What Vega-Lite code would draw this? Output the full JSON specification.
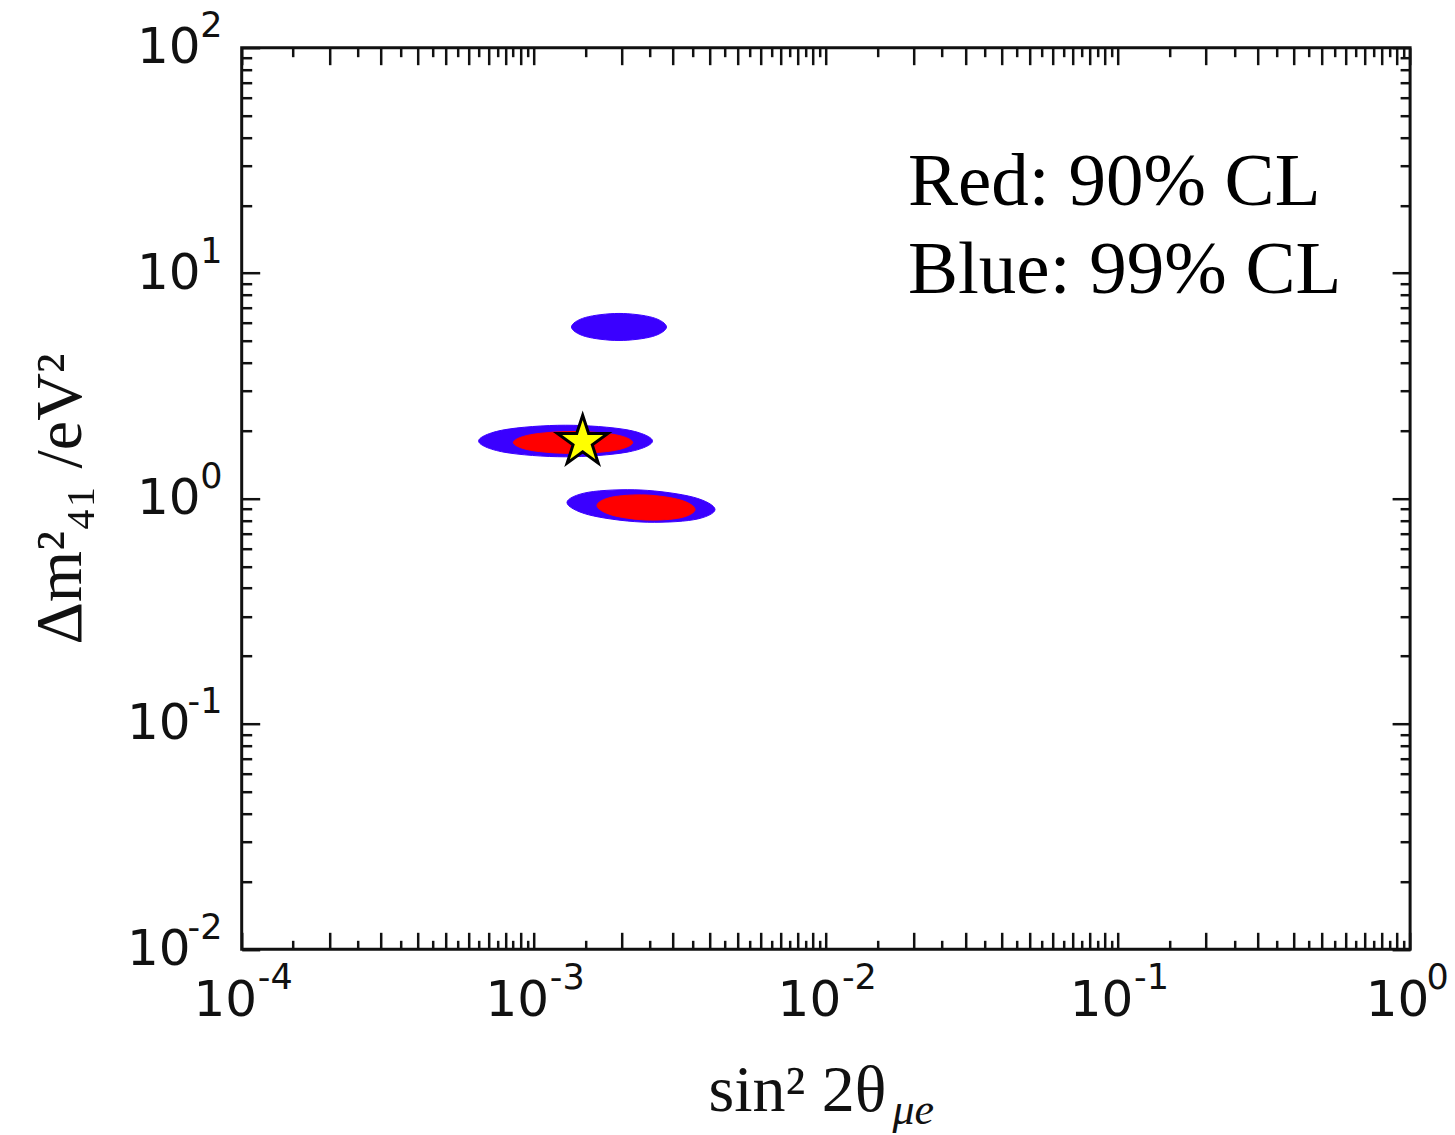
{
  "$schema": "https://vega.github.io/schema/vega-lite/v6.json",
  "autosize": {"type": "none"},
  "width": 1168.4,
  "height": 901.6,
  "padding": {"left": 241.7, "top": 47.7, "right": 44.9, "bottom": 185.7},
  "background": "white",
  "datasets": {
    "blue": [
      {"region": "A", "i": 0, "x": 0.002846, "y": 5.768},
      {"region": "A", "i": 1, "x": 0.002550, "y": 5.234},
      {"region": "A", "i": 2, "x": 0.001957, "y": 5.024},
      {"region": "A", "i": 3, "x": 0.001502, "y": 5.234},
      {"region": "A", "i": 4, "x": 0.001346, "y": 5.768},
      {"region": "A", "i": 5, "x": 0.001502, "y": 6.356},
      {"region": "A", "i": 6, "x": 0.001957, "y": 6.622},
      {"region": "A", "i": 7, "x": 0.002550, "y": 6.356},
      {"region": "B", "i": 0, "x": 0.002550, "y": 1.799},
      {"region": "B", "i": 1, "x": 0.002085, "y": 1.605},
      {"region": "B", "i": 2, "x": 0.001284, "y": 1.531},
      {"region": "B", "i": 3, "x": 0.000791, "y": 1.605},
      {"region": "B", "i": 4, "x": 0.000647, "y": 1.799},
      {"region": "B", "i": 5, "x": 0.000791, "y": 2.017},
      {"region": "B", "i": 6, "x": 0.001284, "y": 2.114},
      {"region": "B", "i": 7, "x": 0.002085, "y": 2.017},
      {"region": "C", "i": 0, "x": 0.004172, "y": 0.8937},
      {"region": "C", "i": 1, "x": 0.003518, "y": 0.8045},
      {"region": "C", "i": 2, "x": 0.002328, "y": 0.7865},
      {"region": "C", "i": 3, "x": 0.001541, "y": 0.8466},
      {"region": "C", "i": 4, "x": 0.001299, "y": 0.9599},
      {"region": "C", "i": 5, "x": 0.001541, "y": 1.0663},
      {"region": "C", "i": 6, "x": 0.002328, "y": 1.0907},
      {"region": "C", "i": 7, "x": 0.003518, "y": 1.0133}
    ],
    "red": [
      {"region": "D", "i": 0, "x": 0.002181, "y": 1.772},
      {"region": "D", "i": 1, "x": 0.001900, "y": 1.636},
      {"region": "D", "i": 2, "x": 0.001362, "y": 1.584},
      {"region": "D", "i": 3, "x": 0.000976, "y": 1.636},
      {"region": "D", "i": 4, "x": 0.000851, "y": 1.772},
      {"region": "D", "i": 5, "x": 0.000976, "y": 1.919},
      {"region": "D", "i": 6, "x": 0.001362, "y": 1.983},
      {"region": "D", "i": 7, "x": 0.001900, "y": 1.919},
      {"region": "E", "i": 0, "x": 0.003565, "y": 0.8938},
      {"region": "E", "i": 1, "x": 0.003183, "y": 0.8214},
      {"region": "E", "i": 2, "x": 0.002422, "y": 0.8028},
      {"region": "E", "i": 3, "x": 0.001843, "y": 0.8455},
      {"region": "E", "i": 4, "x": 0.001645, "y": 0.9310},
      {"region": "E", "i": 5, "x": 0.001843, "y": 1.0130},
      {"region": "E", "i": 6, "x": 0.002422, "y": 1.0364},
      {"region": "E", "i": 7, "x": 0.003183, "y": 0.9842}
    ],
    "star": [{"x": 0.00147, "y": 1.786}],
    "notes": [
      {"x": 0.0191, "y": 20.05, "label": "Red: 90% CL"},
      {"x": 0.0191, "y": 8.16, "label": "Blue: 99% CL"}
    ]
  },
  "resolve": {"axis": {"x": "independent", "y": "independent"}},
  "layer": [
    {
      "data": {"name": "blue"},
      "mark": {"type": "line", "interpolate": "cardinal-closed", "fill": "#3a00ff", "stroke": "#3a00ff", "strokeWidth": 1},
      "encoding": {
        "x": {"field": "x", "type": "quantitative", "scale": {"type": "log", "domain": [0.0001, 1], "nice": false},
          "axis": {"orient": "bottom", "values": [0.0001, 0.001, 0.01, 0.1, 1], "ticks": false, "labelExpr": "'10'",
            "labelFontSize": 50, "labelAlign": "center", "labelBaseline": "alphabetic", "labelPadding": 65.7,
            "labelOffset": {"condition": {"test": "datum.value < 1", "value": -17}, "value": -13},
            "title": "sin² 2θ", "titleFontSize": 66, "titleAlign": "left", "titleBaseline": "alphabetic", "titleX": 466.3, "titleY": 160.7}},
        "y": {"field": "y", "type": "quantitative", "scale": {"type": "log", "domain": [0.01, 100], "nice": false},
          "axis": {"orient": "left", "values": [0.01, 0.1, 1, 10, 100], "ticks": false, "labelExpr": "'10'",
            "labelFontSize": 50, "labelAlign": "right", "labelBaseline": "middle",
            "labelPadding": {"condition": {"test": "datum.value < 1", "value": 51.7}, "value": 41.7},
            "title": "Δm²₄₁ /eV²", "titleFontSize": 66, "titleAngle": -90, "titleAlign": "center", "titleBaseline": "alphabetic", "titleX": -161.7, "titleY": 450.8}},
        "detail": {"field": "region", "type": "nominal"},
        "order": {"field": "i", "type": "quantitative"}
      }
    },
    {
      "data": {"name": "red"},
      "mark": {"type": "line", "interpolate": "cardinal-closed", "fill": "#ff0000", "stroke": "#ff0000", "strokeWidth": 1},
      "encoding": {
        "x": {"field": "x", "type": "quantitative", "scale": {"type": "log", "domain": [0.0001, 1], "nice": false},
          "axis": {"orient": "bottom", "values": [0.0001, 0.001, 0.01, 0.1, 1], "ticks": false,
            "labelExpr": "'' + round(log(datum.value) / LN10)",
            "labelFontSize": 35, "labelAlign": "center", "labelBaseline": "alphabetic", "labelPadding": 38.7,
            "labelOffset": {"condition": {"test": "datum.value < 1", "value": 33}, "value": 27},
            "title": "μe", "titleFontSize": 44, "titleFontStyle": "italic", "titleAlign": "left", "titleBaseline": "alphabetic", "titleX": 650.3, "titleY": 173.7}},
        "y": {"field": "y", "type": "quantitative", "scale": {"type": "log", "domain": [0.01, 100], "nice": false},
          "axis": {"orient": "left", "values": [0.01, 0.1, 1, 10, 100], "ticks": false,
            "labelExpr": "'' + round(log(datum.value) / LN10)",
            "labelFontSize": 35, "labelAlign": "right", "labelBaseline": "middle", "labelPadding": 19.7, "labelOffset": -22,
            "title": null}},
        "detail": {"field": "region", "type": "nominal"},
        "order": {"field": "i", "type": "quantitative"}
      }
    },
    {
      "data": {"name": "star"},
      "mark": {"type": "point", "shape": "M0,-1L0.2245,-0.309L0.9511,-0.309L0.3633,0.118L0.5878,0.809L0,0.382L-0.5878,0.809L-0.3633,0.118L-0.9511,-0.309L-0.2245,-0.309Z", "filled": true, "fill": "#ffff00", "stroke": "#000000", "strokeWidth": 3, "strokeJoin": "miter", "opacity": 1, "size": 2800},
      "encoding": {
        "x": {"field": "x", "type": "quantitative", "scale": {"type": "log", "domain": [0.0001, 1], "nice": false},
          "axis": {"orient": "bottom", "labels": false, "title": null, "tickSize": 17, "offset": -17,
            "values": [0.0001, 0.0002, 0.0003, 0.0004, 0.0005, 0.0006, 0.0007, 0.0008, 0.0009,
                       0.001, 0.002, 0.003, 0.004, 0.005, 0.006, 0.007, 0.008, 0.009,
                       0.01, 0.02, 0.03, 0.04, 0.05, 0.06, 0.07, 0.08, 0.09,
                       0.1, 0.2, 0.3, 0.4, 0.5, 0.6, 0.7, 0.8, 0.9, 1]}},
        "y": {"field": "y", "type": "quantitative", "scale": {"type": "log", "domain": [0.01, 100], "nice": false},
          "axis": {"orient": "left", "labels": false, "title": null, "tickSize": 18, "offset": -18,
            "values": [0.01, 0.1, 1, 10, 100]}}
      }
    },
    {
      "data": {"name": "star"},
      "mark": {"type": "point", "opacity": 0},
      "encoding": {
        "x": {"field": "x", "type": "quantitative", "scale": {"type": "log", "domain": [0.0001, 1], "nice": false},
          "axis": {"orient": "bottom", "labels": false, "title": null, "tickSize": 9, "offset": -9,
            "values": [0.00015, 0.00025, 0.00035, 0.00045, 0.00055, 0.00065, 0.00075, 0.00085, 0.00095,
                       0.0015, 0.0025, 0.0035, 0.0045, 0.0055, 0.0065, 0.0075, 0.0085, 0.0095,
                       0.015, 0.025, 0.035, 0.045, 0.055, 0.065, 0.075, 0.085, 0.095,
                       0.15, 0.25, 0.35, 0.45, 0.55, 0.65, 0.75, 0.85, 0.95]}},
        "y": {"field": "y", "type": "quantitative", "scale": {"type": "log", "domain": [0.01, 100], "nice": false},
          "axis": {"orient": "left", "labels": false, "title": null, "tickSize": 10, "offset": -10,
            "values": [0.02, 0.03, 0.04, 0.05, 0.06, 0.07, 0.08, 0.09,
                       0.2, 0.3, 0.4, 0.5, 0.6, 0.7, 0.8, 0.9,
                       2, 3, 4, 5, 6, 7, 8, 9,
                       20, 30, 40, 50, 60, 70, 80, 90]}}
      }
    },
    {
      "data": {"name": "star"},
      "mark": {"type": "point", "opacity": 0},
      "encoding": {
        "x": {"field": "x", "type": "quantitative", "scale": {"type": "log", "domain": [0.0001, 1], "nice": false},
          "axis": {"orient": "top", "labels": false, "title": null, "tickSize": 17, "offset": -17,
            "values": [0.0001, 0.0002, 0.0003, 0.0004, 0.0005, 0.0006, 0.0007, 0.0008, 0.0009,
                       0.001, 0.002, 0.003, 0.004, 0.005, 0.006, 0.007, 0.008, 0.009,
                       0.01, 0.02, 0.03, 0.04, 0.05, 0.06, 0.07, 0.08, 0.09,
                       0.1, 0.2, 0.3, 0.4, 0.5, 0.6, 0.7, 0.8, 0.9, 1]}},
        "y": {"field": "y", "type": "quantitative", "scale": {"type": "log", "domain": [0.01, 100], "nice": false},
          "axis": {"orient": "right", "labels": false, "title": null, "tickSize": 18, "offset": -18,
            "values": [0.01, 0.1, 1, 10, 100]}}
      }
    },
    {
      "data": {"name": "star"},
      "mark": {"type": "point", "opacity": 0},
      "encoding": {
        "x": {"field": "x", "type": "quantitative", "scale": {"type": "log", "domain": [0.0001, 1], "nice": false},
          "axis": {"orient": "top", "labels": false, "title": null, "tickSize": 9, "offset": -9,
            "values": [0.00015, 0.00025, 0.00035, 0.00045, 0.00055, 0.00065, 0.00075, 0.00085, 0.00095,
                       0.0015, 0.0025, 0.0035, 0.0045, 0.0055, 0.0065, 0.0075, 0.0085, 0.0095,
                       0.015, 0.025, 0.035, 0.045, 0.055, 0.065, 0.075, 0.085, 0.095,
                       0.15, 0.25, 0.35, 0.45, 0.55, 0.65, 0.75, 0.85, 0.95]}},
        "y": {"field": "y", "type": "quantitative", "scale": {"type": "log", "domain": [0.01, 100], "nice": false},
          "axis": {"orient": "right", "labels": false, "title": null, "tickSize": 10, "offset": -10,
            "values": [0.02, 0.03, 0.04, 0.05, 0.06, 0.07, 0.08, 0.09,
                       0.2, 0.3, 0.4, 0.5, 0.6, 0.7, 0.8, 0.9,
                       2, 3, 4, 5, 6, 7, 8, 9,
                       20, 30, 40, 50, 60, 70, 80, 90]}}
      }
    },
    {
      "data": {"name": "notes"},
      "mark": {"type": "text", "font": "Liberation Serif", "fontSize": 75, "align": "left", "baseline": "alphabetic", "color": "#000000"},
      "encoding": {
        "x": {"field": "x", "type": "quantitative", "scale": {"type": "log", "domain": [0.0001, 1], "nice": false}, "axis": null},
        "y": {"field": "y", "type": "quantitative", "scale": {"type": "log", "domain": [0.01, 100], "nice": false}, "axis": null},
        "text": {"field": "label", "type": "nominal"}
      }
    }
  ],
  "config": {
    "view": {"stroke": "#111111", "strokeWidth": 3},
    "axis": {
      "grid": false, "domain": false,
      "labelFont": "DejaVu Sans", "labelColor": "#111111",
      "tickColor": "#111111", "tickWidth": 2.5,
      "titleFont": "Liberation Serif", "titleFontWeight": "normal", "titleColor": "#111111",
      "labelFlush": false, "labelOverlap": false, "labelBound": false
    }
  }
}
